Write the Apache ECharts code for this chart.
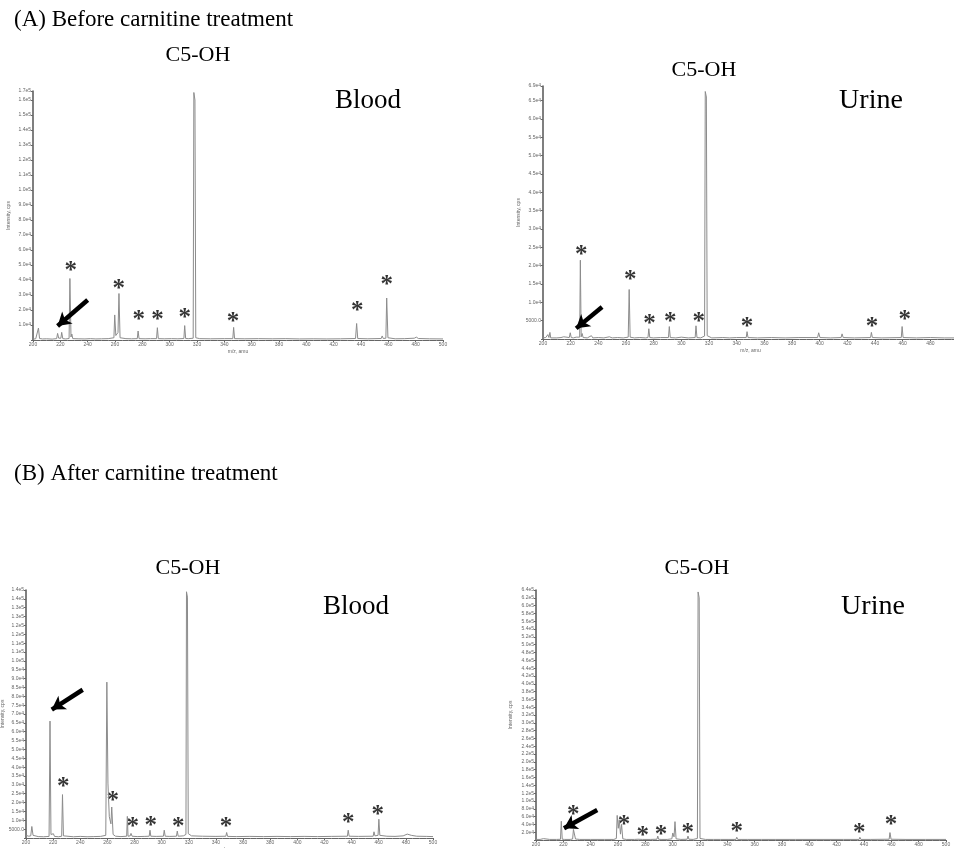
<!DOCTYPE html>
<html><head><meta charset="utf-8">
<script src="https://cdn.jsdelivr.net/npm/echarts@6/dist/echarts.min.js"></script>
<style>html,body{margin:0;padding:0;background:#fff}#c{width:954px;height:848px}</style>
</head><body><div id="c"></div>
<script>
// ---------- axis settings ----------
const xMin = 200, xMax = 500, xStep = 20;
const yMaxes = [166000, 69000, 140000, 640000];      // A-Blood, A-Urine, B-Blood, B-Urine
const yIntervals = [10000, 5000, 5000, 20000];

// ---------- spectra: [m/z, intensity (cps)] ----------
const specABlood = [
[200,600],[202,800],[203.3,900],[204,8000],[204.8,1000],[207,700],[210,800],[214,600],[217.3,900],[218,4400],[218.8,1200],[219.5,1000],[220.4,1200],[221,5100],[221.8,900],[224,700],[226.4,1000],[227,41000],[227.8,2000],[228.4,4000],[229.1,900],[233,800],[238,700],[242,900],[246,700],[250,800],[255,900],[259.2,1500],[259.8,16700],[260.6,3000],[262.2,5000],[262.9,31000],[263.7,1500],[268,900],[272,800],[276.3,900],[276.9,6000],[277.6,900],[282,800],[286,900],[290.4,900],[291,8200],[291.7,900],[296,800],[301.4,900],[302,1800],[302.7,900],[306,800],[310.4,1000],[311,9600],[311.7,1000],[314,900],[317.2,1200],[317.7,165000],[318.5,160000],[319.1,1500],[322,900],[330,800],[340,900],[346.2,900],[346.8,8400],[347.5,900],[355,800],[365,900],[375,800],[385,900],[395,700],[405,800],[415,700],[425,800],[436,1000],[436.8,11000],[437.6,1000],[445,800],[454.8,1000],[455.5,2700],[456.3,1000],[458.2,1200],[458.8,28000],[459.7,1500],[465,800],[472,900],[479,1200],[480.5,1900],[482,1000],[490,800],[500,700]
];
const specAUrine = [
[200,300],[202,400],[203.5,1200],[204.3,400],[205,1800],[205.6,300],[207,500],[210,300],[213,400],[215,600],[216,300],[219,400],[219.7,1700],[220.4,400],[222,300],[224,500],[226.5,500],[227,21500],[227.6,600],[228.3,1500],[229,400],[232,300],[235,900],[236,300],[240,400],[244,300],[248,600],[250,300],[254,400],[258,300],[261.6,500],[262.3,13500],[263,500],[266,300],[270,400],[274,300],[275.9,400],[276.5,2800],[277.2,400],[280,300],[285,400],[290.7,400],[291.3,3400],[292,400],[296,300],[300,500],[305,300],[310,400],[310.6,3600],[311.3,400],[314,300],[316.8,800],[317.3,67500],[318.1,66000],[318.7,900],[322,300],[330,400],[335,300],[340,400],[346.9,400],[347.5,2000],[348.2,400],[355,300],[365,400],[375,300],[385,400],[398.5,400],[399.3,1700],[400.2,400],[408,300],[415.5,400],[416.2,1400],[417,400],[425,300],[436.8,400],[437.4,1800],[438.1,400],[445,300],[459,400],[459.6,3400],[460.3,400],[470,300],[480,400],[490,300],[500,300]
];
const specBBlood = [
[200,1500],[201,1200],[202,1000],[203.5,1200],[204.3,6500],[205.2,1500],[206.5,1000],[209,800],[213,700],[217,900],[217.7,66000],[218.4,2000],[219.5,1200],[220.2,2400],[221,900],[224,700],[226.3,1000],[226.9,24500],[227.6,1200],[229,800],[235,700],[240,900],[245,700],[250,800],[255,900],[258.8,1500],[259.6,88000],[260.4,31000],[261.4,12000],[262.6,8000],[263.2,17500],[264.2,2000],[266,1000],[270,800],[274.2,1000],[274.7,12200],[275.2,1000],[276.8,1200],[277.4,2600],[278.2,1000],[282,800],[287.6,900],[288.2,2000],[288.8,900],[290.8,1000],[291.4,4400],[292,1000],[296,900],[301.3,1000],[301.9,4400],[302.6,1000],[306,900],[310.9,1000],[311.5,3900],[312.2,1000],[316,1200],[317.9,2000],[318.3,139000],[319,136000],[319.6,2500],[322,1200],[330,1000],[340,900],[347.3,1000],[347.9,3100],[348.6,900],[355,800],[365,900],[375,800],[385,900],[395,800],[405,900],[415,800],[425,900],[436.9,1000],[437.5,4400],[438.2,1000],[445,900],[455.9,1000],[456.5,3500],[457.2,1200],[459.5,1500],[460.1,10600],[460.8,1500],[466,1000],[472,900],[478,1200],[481,2200],[484,1500],[488,1000],[495,900],[500,800]
];
const specBUrine = [
[200,1500],[203,1500],[205.5,3500],[206.5,1500],[210,1500],[215,1500],[217.9,1800],[218.5,48000],[219.2,2000],[220.2,4000],[221,1500],[225,1500],[226.8,2500],[227.4,27000],[228.2,24000],[228.9,2500],[232,1500],[240,1500],[250,1500],[257,1500],[258.8,4000],[259.4,63000],[260.2,30000],[260.9,52000],[261.8,15000],[262.6,40000],[263.5,3000],[266,1500],[272,1500],[274.6,2000],[275.2,7000],[275.8,2000],[277.8,1500],[278.4,4000],[279,1500],[284,1500],[288.5,2000],[289.1,10000],[289.7,2000],[291.5,1500],[292.1,6000],[292.7,1500],[296,1500],[299.4,3000],[300.1,18000],[301,8000],[301.7,47000],[302.5,3000],[306,1500],[310.6,2000],[311.2,10000],[311.9,2000],[315,1500],[318.1,4000],[318.6,635000],[319.4,620000],[320,4000],[324,1500],[330,1500],[335,1500],[341.2,1500],[341.9,5000],[342.6,1500],[346.3,1500],[346.9,7000],[347.6,1500],[355,1500],[364.9,1500],[365.5,3000],[366.2,1500],[375,1500],[390,1500],[410,1500],[425,1500],[436.4,1500],[437,7000],[437.7,1500],[445,1500],[458.4,2000],[459,19000],[459.8,2000],[470,1500],[485,1500],[500,1500]
];

// ---------- asterisk marks (internal standards) ----------
const starsABlood = [[227.7,48000],[262.8,36000],[277.4,15500],[291.1,15500],[311,17300],[346.4,14500],[437.2,21800],[458.9,39000]];
const starsAUrine = [[227.7,23800],[263.1,16900],[276.9,5000],[292,5600],[312.5,5600],[347.5,4300],[437.9,4300],[461.5,6100]];
const starsBBlood = [[227.5,30500],[263.9,23000],[278.6,8300],[291.9,8600],[312.2,8300],[347.4,7900],[437.5,10200],[459.2,14900]];
const starsBUrine = [[227.3,72600],[264.4,46900],[278.1,18700],[291.4,21300],[311,27400],[346.8,30000],[436.5,25600],[459.7,46900]];

// ---------- arrows (tail, tip) pointing at free carnitine ----------
const arrowABlood = [[240,26700],[218,9300]];
const arrowAUrine = [[242.7,8700],[224,2900]];
const arrowBBlood = [[241.8,83700],[219,72500]];
const arrowBUrine = [[244.8,76900],[220.5,30000]];

// ---------- texts ----------
const titleA = '(A) Before carnitine treatment';
const titleB = '(B) After carnitine treatment';
const peakName = 'C5-OH';
const sampleNames = ['Blood', 'Urine', 'Blood', 'Urine'];
const xName = 'm/z, amu';
const yName = 'Intensity, cps';

const specs = [specABlood, specAUrine, specBBlood, specBUrine];
const stars = [starsABlood, starsAUrine, starsBBlood, starsBUrine];
const arrows = [arrowABlood, arrowAUrine, arrowBBlood, arrowBUrine];

const grids = [
  {left: 33, top: 91, width: 410, height: 249},
  {left: 543, top: 86, width: 415, height: 253},
  {left: 26, top: 590, width: 407, height: 248},
  {left: 536, top: 590, width: 410, height: 250}
];
const yNameGaps = [22, 22, 20, 23];

function fmtY(v) {
  if (v === 0) return '';
  if (v < 10000) return v.toFixed(1);
  return v.toExponential(1).replace('+', '');
}

const chart = echarts.init(document.getElementById('c'), null, {renderer: 'canvas'});
const serif = '"Liberation Serif", "Times New Roman", serif';
const tickFont = {fontSize: 5, color: '#666', fontFamily: 'Liberation Sans'};

const option = {
  animation: false,
  backgroundColor: '#fff',
  grid: grids.map(g => Object.assign({outerBoundsMode: 'none', containLabel: false}, g)),
  xAxis: grids.map((g, i) => ({
    gridIndex: i, type: 'value', min: xMin, max: xMax, interval: xStep,
    axisLine: {show: true, lineStyle: {color: '#666', width: 1}},
    axisTick: {show: true, length: 2, lineStyle: {color: '#666'}},
    minorTick: {show: true, splitNumber: 4, length: 1, lineStyle: {color: '#888'}},
    splitLine: {show: false}, minorSplitLine: {show: false},
    axisLabel: Object.assign({margin: 2, showMinLabel: true, showMaxLabel: true}, tickFont),
    name: xName, nameLocation: 'middle', nameGap: 9,
    nameTextStyle: {fontSize: 5, color: '#666', fontFamily: 'Liberation Sans'}
  })),
  yAxis: grids.map((g, i) => ({
    gridIndex: i, type: 'value', min: 0, max: yMaxes[i], interval: yIntervals[i],
    axisLine: {show: true, lineStyle: {color: '#555', width: 1.5}},
    axisTick: {show: true, length: 2, lineStyle: {color: '#666'}},
    splitLine: {show: false},
    axisLabel: Object.assign({margin: 2, formatter: fmtY, showMinLabel: true, showMaxLabel: true}, tickFont),
    name: yName, nameLocation: 'middle', nameGap: yNameGaps[i], nameRotate: 90,
    nameTextStyle: {fontSize: 5, color: '#666', fontFamily: 'Liberation Sans'}
  })),
  series: [],
  graphic: []
};

specs.forEach((s, i) => {
  option.series.push({
    type: 'line', xAxisIndex: i, yAxisIndex: i, data: s,
    showSymbol: false, symbol: 'none', smooth: false,
    lineStyle: {color: '#8c8c8c', width: 1},
    clip: false, silent: true,
    markLine: {
      silent: true, symbol: ['none', 'arrow'], symbolSize: [12, 13],
      lineStyle: {color: '#000', width: 4.5, type: 'solid'},
      label: {show: false},
      data: [[{coord: arrows[i][0]}, {coord: arrows[i][1]}]]
    }
  });
  option.series.push({
    type: 'scatter', xAxisIndex: i, yAxisIndex: i, data: stars[i],
    symbol: 'circle', symbolSize: 1, itemStyle: {color: 'rgba(0,0,0,0)'},
    silent: true,
    label: {show: true, position: 'inside', formatter: '*', fontSize: 25,
            fontWeight: 'bold', offset: [0, 4],
            fontFamily: 'Liberation Serif', color: '#000'}
  });
});

function txt(x, y, text, size, align) {
  return {type: 'text', x: x, y: y, silent: true,
    style: {text: text, font: size + 'px ' + serif, fill: '#000',
      textAlign: align || 'center', textVerticalAlign: 'middle',
      align: align || 'center', verticalAlign: 'middle'}};
}
option.graphic = [
  txt(14, 20, titleA, 23, 'left'),
  txt(14, 474, titleB, 23, 'left'),
  txt(198, 55, peakName, 22),
  txt(368, 101, sampleNames[0], 27),
  txt(704, 70, peakName, 22),
  txt(871, 101, sampleNames[1], 28),
  txt(188, 568, peakName, 22),
  txt(356, 607, sampleNames[2], 27),
  txt(697, 568, peakName, 22),
  txt(873, 607, sampleNames[3], 28)
];

chart.setOption(option);
</script></body></html>
